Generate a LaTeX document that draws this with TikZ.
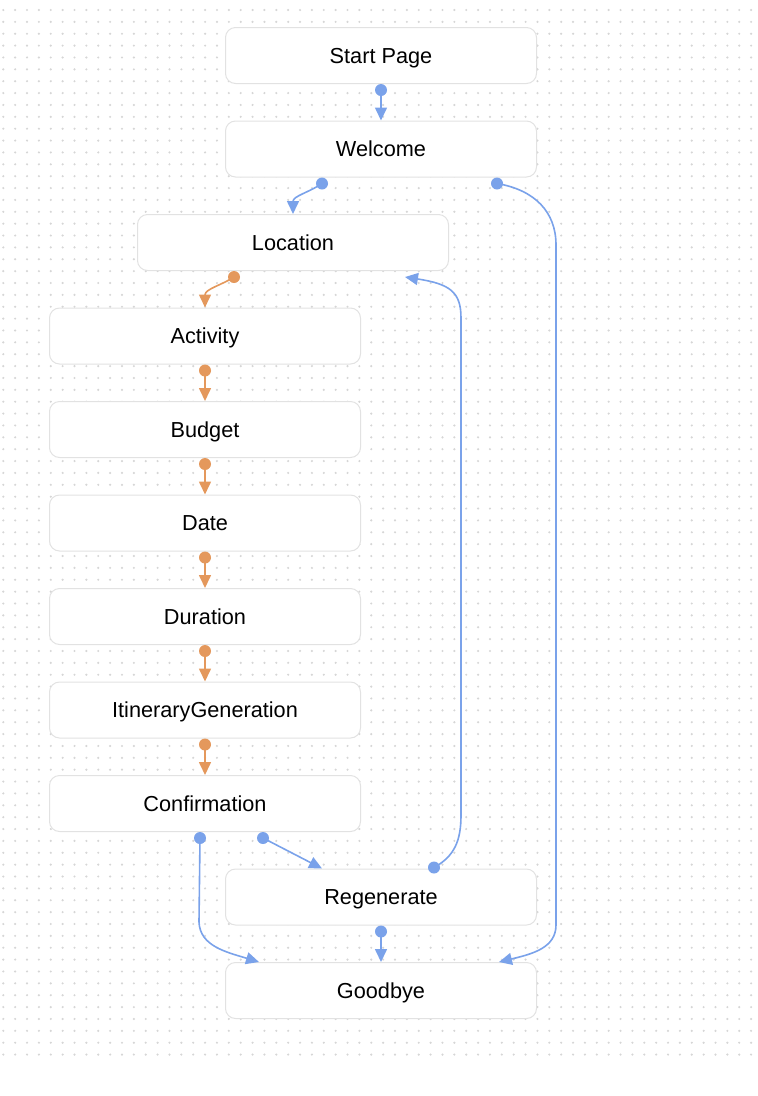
\documentclass[tikz,border=0pt]{standalone}
\usepackage{fontspec}
\setmainfont{Liberation Sans}
\usepackage{xcolor}
\definecolor{flowblue}{RGB}{122,162,234}
\definecolor{floworange}{RGB}{228,152,92}
\definecolor{flowborder}{RGB}{226,226,226}
\definecolor{flowdot}{RGB}{214,214,214}
\usetikzlibrary{arrows.meta, positioning}

\begin{document}
\begin{tikzpicture}[
  x=1pt, y=-1pt,
  node distance=36.5pt,
  flownode/.style={rectangle, rounded corners=10pt, draw=flowborder, line width=1pt, fill=white,
               minimum width=311pt, minimum height=56pt, inner sep=0pt,
               text height=17pt, text depth=2pt,
               font=\fontsize{21.7}{26}\selectfont},
  blueedge/.style={-{Triangle[length=13pt,width=12pt]}, line width=1.6pt, color=flowblue},
  orangeedge/.style={-{Triangle[length=13pt,width=12pt]}, line width=1.6pt, color=floworange},
  bluedot/.style={fill=flowblue},
  orangedot/.style={fill=floworange}
]
  \useasboundingbox (0,0) rectangle (758,1096);
  % dotted canvas
  \foreach \i in {0,...,63}
    \foreach \j in {0,...,88}
      \fill[flowdot] (3.3+11.87*\i, 10+11.87*\j) circle (1.2pt);

  \node[flownode] (start) at (381,55.5) {Start Page};
  \node[flownode, below=of start] (welcome) {Welcome};
  \node[flownode, below=of welcome, xshift=-88pt] (location) {Location};
  \node[flownode, below=of location, xshift=-88pt] (activity) {Activity};
  \node[flownode, below=of activity] (budget) {Budget};
  \node[flownode, below=of budget] (date) {Date};
  \node[flownode, below=of date] (duration) {Duration};
  \node[flownode, below=of duration] (itinerary) {ItineraryGeneration};
  \node[flownode, below=of itinerary] (confirm) {Confirmation};
  \node[flownode, below=of confirm, xshift=176pt] (regen) {Regenerate};
  \node[flownode, below=of regen] (goodbye) {Goodbye};

  % handles
  \coordinate (startS) at ([yshift=-6pt]start.south);
  \coordinate (welcomeL) at ([xshift=-59pt,yshift=-6pt]welcome.south);
  \coordinate (welcomeR) at ([xshift=116pt,yshift=-6pt]welcome.south);
  \coordinate (locationS) at ([xshift=-59pt,yshift=-6pt]location.south);
  \coordinate (locationIn) at ([xshift=112pt,yshift=-6pt]location.south);
  \coordinate (activityS) at ([yshift=-6pt]activity.south);
  \coordinate (budgetS) at ([yshift=-6pt]budget.south);
  \coordinate (dateS) at ([yshift=-6pt]date.south);
  \coordinate (durationS) at ([yshift=-6pt]duration.south);
  \coordinate (itineraryS) at ([yshift=-6pt]itinerary.south);
  \coordinate (confirmL) at ([xshift=-5pt,yshift=-6pt]confirm.south);
  \coordinate (confirmR) at ([xshift=58pt,yshift=-6pt]confirm.south);
  \coordinate (regenT) at ([xshift=53pt,yshift=1pt]regen.north);
  \coordinate (regenS) at ([yshift=-6pt]regen.south);

  \draw[blueedge] (startS) -- (welcome.north);
  \draw[blueedge] (welcomeL) .. controls (310,192) and (293,196) .. (location.north);
  \draw[blueedge] (welcomeR) .. controls (535,190) and (556,212) .. (556,245)
    -- (556,925) .. controls (556,948) and (532,954) .. ([xshift=118pt]goodbye.north);
  \draw[orangeedge] (locationS) .. controls (222,285) and (205,289) .. (activity.north);
  \draw[orangeedge] (activityS) -- (budget.north);
  \draw[orangeedge] (budgetS) -- (date.north);
  \draw[orangeedge] (dateS) -- (duration.north);
  \draw[orangeedge] (durationS) -- (itinerary.north);
  \draw[orangeedge] (itineraryS) -- (confirm.north);
  \draw[blueedge] (confirmL) -- (199,922) .. controls (200,946) and (226,952) .. ([xshift=-122pt]goodbye.north);
  \draw[blueedge] (confirmR) -- ([xshift=-59pt]regen.north);
  \draw[blueedge] (regenT) .. controls (455,856) and (461,840) .. (461,815)
    -- (461,318) .. controls (461,292) and (450,284) .. (locationIn);
  \draw[blueedge] (regenS) -- (goodbye.north);

  \foreach \h in {startS, welcomeL, welcomeR, regenT, regenS, confirmL, confirmR}
    \fill[bluedot] (\h) circle (6pt);
  \foreach \h in {locationS, activityS, budgetS, dateS, durationS, itineraryS}
    \fill[orangedot] (\h) circle (6pt);
\end{tikzpicture}
\end{document}
